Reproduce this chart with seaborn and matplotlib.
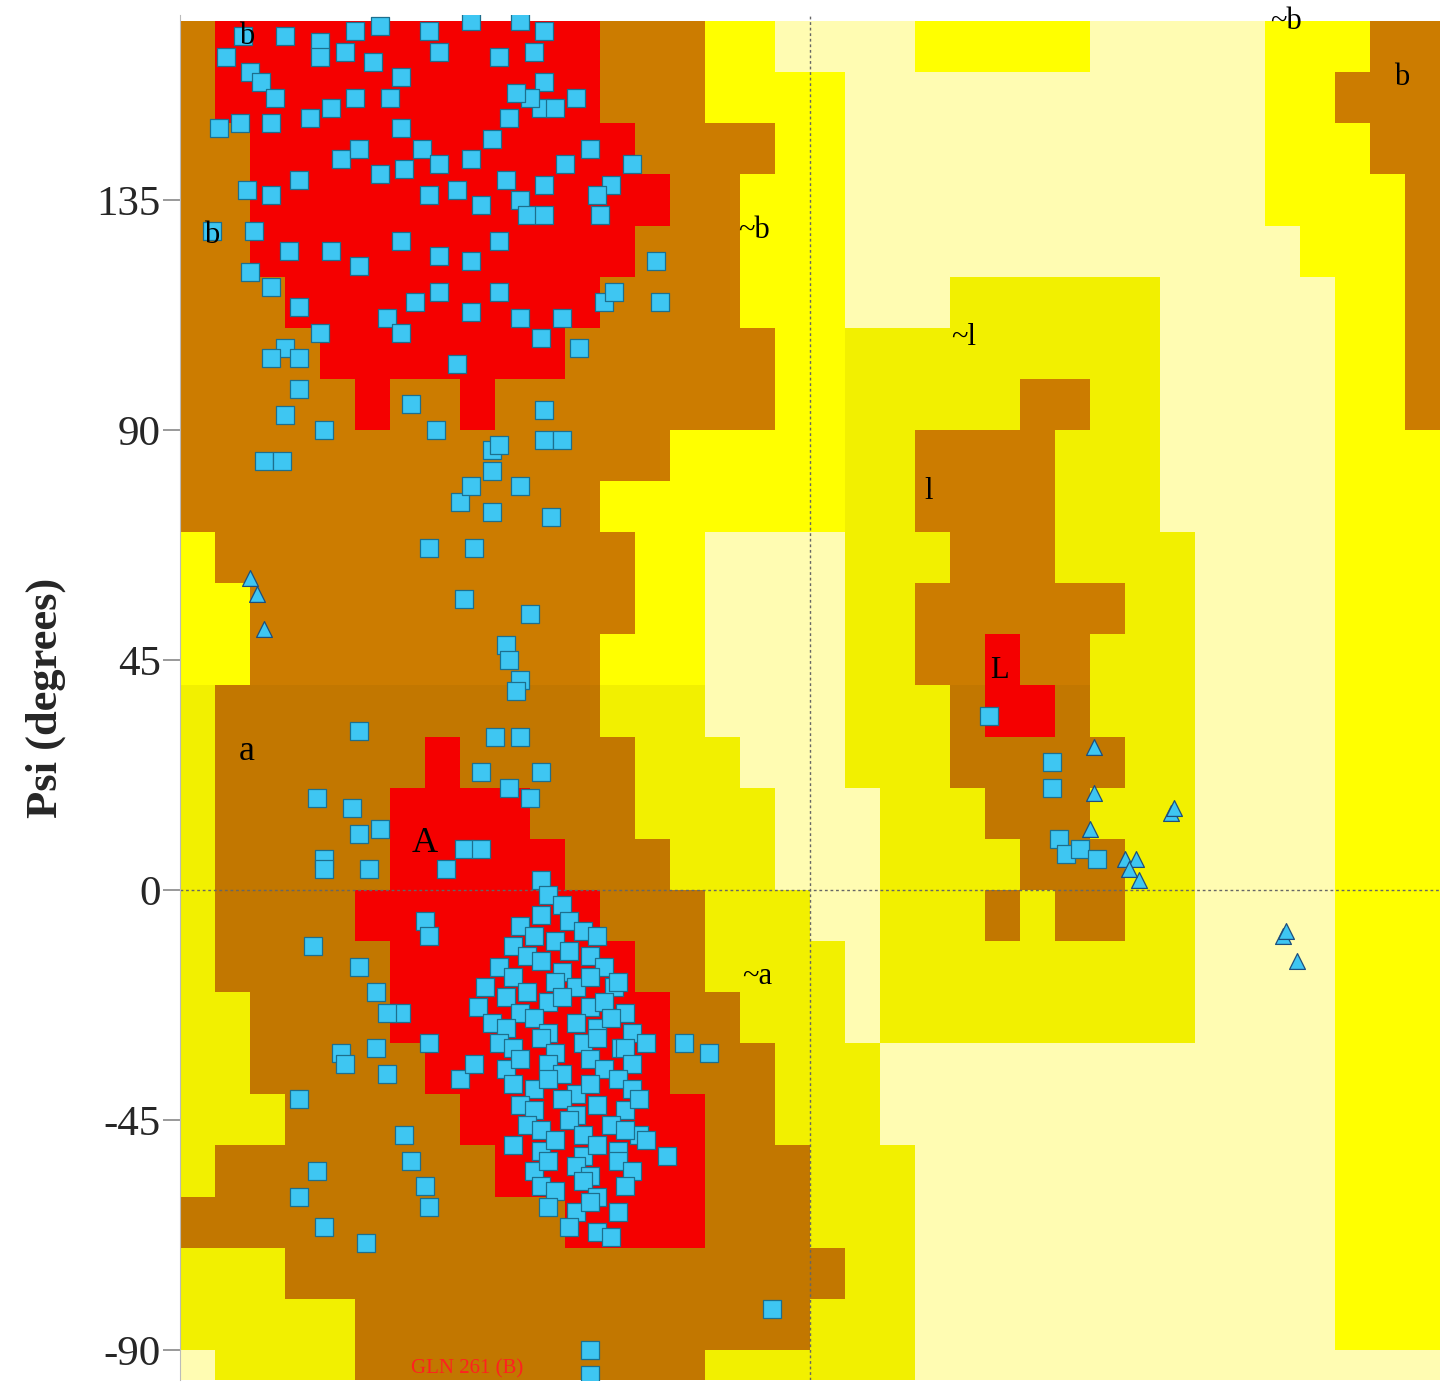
import numpy as np
import pandas as pd
import matplotlib
matplotlib.use("Agg")
import matplotlib.pyplot as plt
from matplotlib.colors import ListedColormap
import seaborn as sns

# Region map: rows are psi bins (top value), columns phi bins from -180 in 10 deg steps
# W = pale, Y = generously allowed, B = additionally allowed, R = core
row_tops = [170, 160, 150, 140, 130, 120, 110, 100, 90, 80, 70, 60, 50, 40, 30, 20, 10, 0,
            -10, -20, -30, -40, -50, -60, -70, -80, -90]
region_rows = [
    "BRRRRRRRRRRRBBBYYWWWWYYYYYWWWWWYYYBB",
    "BRRRRRRRRRRRBBBYYYYWWWWWWWWWWWWYYBBB",
    "BBRRRRRRRRRRRBBBBYYWWWWWWWWWWWWYYYBB",
    "BBRRRRRRRRRRRRBBYYYWWWWWWWWWWWWYYYYB",
    "BBRRRRRRRRRRRBBBYYYWWWWWWWWWWWWWYYYB",
    "BBBRRRRRRRRRBBBBYYYWWWYYYYYYWWWWWYYB",
    "BBBBRRRRRRRBBBBBBYYYYYYYYYYYWWWWWYYB",
    "BBBBBRBBRBBBBBBBBYYYYYYYBBYYWWWWWYYB",
    "BBBBBBBBBBBBBBYYYYYYYBBBBYYYWWWWWYYY",
    "BBBBBBBBBBBBYYYYYYYYYBBBBYYYWWWWWYYY",
    "YBBBBBBBBBBBBYYWWWWYYYBBBYYYYWWWWYYY",
    "YYBBBBBBBBBBBYYWWWWYYBBBBBBYYWWWWYYY",
    "YYBBBBBBBBBBYYYWWWWYYBBRBBYYYWWWWYYY",
    "YBBBBBBBBBBBYYYWWWWYYYBRRBYYYWWWWYYY",
    "YBBBBBBRBBBBBYYYWWWYYYBBBBBYYWWWWYYY",
    "YBBBBBRRRRBBBYYYYWWWYYYBBBYYYWWWWYYY",
    "YBBBBBRRRRRBBBYYYWWWYYYYBBBYYWWWWYYY",
    "YBBBBRRRRRRRBBBYYYWWYYYBYBBYYWWWWYYY",
    "YBBBBBRRRRRRRBBYYYYWYYYYYYYYYWWWWYYY",
    "YYBBBBRRRRRRRRBBYYYWYYYYYYYYYWWWWYYY",
    "YYBBBBBRRRRRRRBBBYYYWWWWWWWWWWWWWYYY",
    "YYYBBBBBRRRRRRRBBYYYWWWWWWWWWWWWWYYY",
    "YBBBBBBBBRRRRRRBBBYYYWWWWWWWWWWWWYYY",
    "BBBBBBBBBBBRRRRBBBYYYWWWWWWWWWWWWYYY",
    "YYYBBBBBBBBBBBBBBBBYYWWWWWWWWWWWWYYY",
    "YYYYYBBBBBBBBBBBBBYYYWWWWWWWWWWWWYYY",
    "WYYYYBBBBBBBBBBYYYYYYWWWWWWWWWWWWWWW",
]

# Residues (phi, psi): non-glycine squares
beta_phi = [-162,-150,-140,-130,-123,-109,-97,-83,-76,-167,-160,-157,-153,-140,-133,-125,-117,-106,-89,-79,-76,-77,
            -169,-163,-154,-143,-137,-130,-120,-117,-111,-106,-97,-91,-86,-80,-73,-67,-84,
            -161,-154,-146,-134,-129,-123,-116,-109,-101,-94,-87,-83,-76,-70,-63,-57,-51,
            -171,-159,-149,-137,-129,-117,-106,-97,-89,-81,-76,-60,-61,
            -160,-154,-146,-140,-150,-146,-154,-121,-117,-113,-106,-97,-89,-83,-77,-71,-66,-59,-56,-44,-43,
            -146,-139,-150,-156,-151,-114,-107,-101,-91,-89,-83,-76,-76,-71,-74,-100,-97,-91,-91,-109,-96,-99,-80,-87,-86,-83,-84,-90,-83,-129]
beta_psi = [167,167,166,168,169,168,170,170,168,163,160,158,155,163,164,162,159,164,163,164,158,153,
            149,150,150,151,153,155,155,149,145,142,143,147,151,155,153,155,156,
            137,136,139,143,145,140,141,136,137,134,139,135,138,142,145,138,142,
            129,129,125,125,122,127,124,123,127,132,132,132,136,
            121,118,114,109,106,104,104,112,109,115,117,113,117,112,108,112,106,115,117,123,115,
            98,90,93,84,84,95,90,103,86,87,79,94,88,88,73,76,79,82,74,67,67,57,54,48,45,41,39,30,30,31]
alpha_phi = [-141,-131,-129,-123,-139,-139,-126,-94,-86,-77,-80,-99,-94,-104,-77,
             -142,-129,-124,-134,-133,-124,-121,-146,-141,-146,-139,-127,-116,-114,-110,-109,-109,-117,-121,
             -110,-109,-100,-96,-11,-63,-63,-29,-36,-41,-49,-56,-54,
             -75,-71,-83,-77,-69,-65,-85,-79,-73,-69,-61,-89,-81,-77,-71,-63,-59,
             -93,-85,-81,-73,-67,-63,-55,-95,-87,-83,-75,-71,-63,-59,-53,
             -91,-87,-79,-75,-67,-61,-57,-51,-89,-85,-77,-73,-65,-61,-53,-47,
             -87,-83,-75,-71,-63,-59,-51,-85,-79,-75,-67,-63,-55,-51,
             -83,-79,-71,-67,-61,-53,-49,-81,-77,-69,-65,-57,-53,
             -85,-77,-73,-65,-61,-55,-47,-79,-75,-67,-63,-55,-51,
             -77,-73,-65,-61,-53,-75,-67,-63,-55,-69,-61,-57,
             51,69,69,71,73,77,82]
alpha_psi = [18,16,11,12,6,4,4,23,20,23,18,8,8,4,2,
             -11,-15,-20,-32,-34,-31,-36,-41,-55,-60,-66,-69,-48,-53,-58,-62,-30,-24,-24,
             -6,-9,-37,-34,-82,-90,-95,-32,-30,-52,-48,-19,-31,
             -1,-3,-7,-5,-6,-8,-11,-9,-10,-12,-9,-15,-13,-14,-16,-13,-15,
             -19,-17,-20,-18,-19,-17,-18,-23,-21,-24,-22,-21,-23,-22,-24,
             -26,-27,-25,-28,-26,-27,-25,-28,-30,-31,-29,-32,-30,-29,-31,-30,
             -35,-33,-34,-36,-33,-35,-34,-38,-39,-37,-40,-38,-37,-39,
             -42,-43,-41,-44,-42,-43,-41,-46,-47,-45,-48,-46,-47,
             -50,-51,-49,-52,-50,-51,-49,-55,-53,-54,-56,-53,-55,
             -58,-59,-57,-60,-58,-62,-63,-61,-63,-66,-67,-68,
             34,25,20,10,7,8,6]
# Glycines (triangles)
gly_phi = [-160,-158,-156,81,81,80,90,93,94,91,103,104,135,136,139]
gly_psi = [61,58,51,28,19,12,6,6,2,4,15,16,-9,-8,-14]

# Region labels
label_text = ["b", "b", "~b", "a", "A", "~a", "~l", "l", "L", "~b", "b"]
label_phi = [-161, -171, -16, -161, -110, -15, 44, 34, 54, 136, 169]
label_psi = [167, 128, 129, 27, 9, -17, 108, 78, 43, 170, 159]

yticks = [-90, -45, 0, 45, 90, 135]

sns.set_style("white")
plt.rcParams['font.family'] = ['Liberation Serif', 'DejaVu Serif']

fig = plt.figure(figsize=(14.54, 13.99), dpi=100)
ax = fig.add_axes([180/1454, 19/1399, 1260/1454, 1365/1399])

code_map = {"W": 0, "Y": 1, "B": 3, "R": 5}
Z = np.array([[code_map[ch] for ch in row] for row in region_rows], dtype=float)
for i, top in enumerate(row_tops):
    for j in range(36):
        if (top <= 40 and j <= 18) or (19 <= j <= 28 and top <= 120):
            if Z[i, j] == 1:
                Z[i, j] = 2
        if top <= 40 and Z[i, j] == 3:
            Z[i, j] = 4
Z = Z[::-1]
cmap = ListedColormap(["#fffcb2", "#ffff00", "#f2f000", "#cc7c00", "#c27700", "#f50000"])
phi_edges = np.arange(-180, 190, 10)
psi_edges = np.arange(row_tops[-1] - 10, row_tops[0] + 10, 10)
ax.pcolormesh(phi_edges, psi_edges, Z, cmap=cmap, vmin=-0.5, vmax=5.5, edgecolors='none')

ax.axhline(0, color="#666666", lw=1, ls=(0, (2, 2)), zorder=2)
ax.axvline(0, color="#666666", lw=1, ls=(0, (2, 2)), zorder=2)

df_sq = pd.DataFrame({"phi": beta_phi + alpha_phi, "psi": beta_psi + alpha_psi})
df_gl = pd.DataFrame({"phi": gly_phi, "psi": gly_psi})
sns.scatterplot(data=df_sq, x="phi", y="psi", marker="s", s=160, color="#3ec6f2",
                edgecolor="#1d6f8e", linewidth=0.9, ax=ax, zorder=4)
sns.scatterplot(data=df_gl, x="phi", y="psi", marker="^", s=130, color="#3ec6f2",
                edgecolor="#1d4f7e", linewidth=0.9, ax=ax, zorder=4)

for t, x, y in zip(label_text, label_phi, label_psi):
    ax.text(x, y, t, fontsize=26 if t in ("A", "a") else 22, ha="center", va="center",
            color="black", zorder=5)
ax.text(-98, -95.7, "GLN 261 (B)", color="#ff2020", fontsize=15, ha="center", va="bottom",
        zorder=5)

ax.set_xlim(-180, 180)
ax.set_ylim(-95.9, 171.2)
ax.set_yticks(yticks)
ax.set_yticklabels([str(v) for v in yticks], fontsize=31)
ax.set_xticks([])
ax.tick_params(axis="y", direction="out", length=12, width=1.2, color="#888888", pad=2, left=True)
for s in ["top", "right", "bottom"]:
    ax.spines[s].set_visible(False)
ax.spines["left"].set_color("#bbbbbb")
ax.set_xlabel("")
ax.set_ylabel("Psi (degrees)", fontsize=32, fontweight="bold", labelpad=22)

fig.savefig("out.png", dpi=100)
